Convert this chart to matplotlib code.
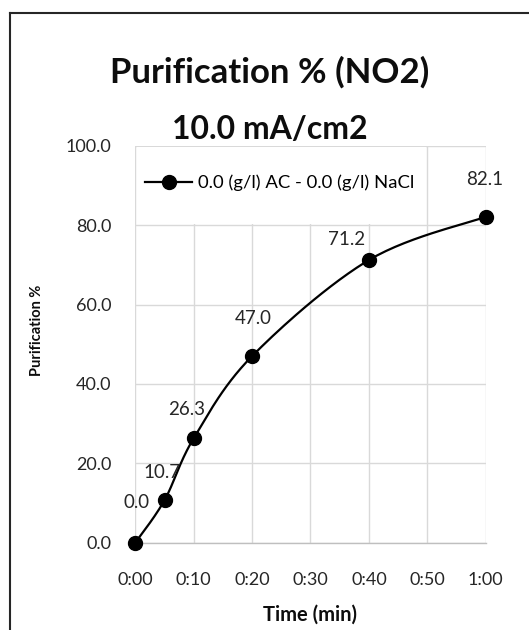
import matplotlib
matplotlib.use("Agg")
import matplotlib.pyplot as plt
from matplotlib.patches import Rectangle
from matplotlib.ticker import FuncFormatter, MultipleLocator
import numpy as np

plt.rcParams['font.family'] = ['Lato', 'DejaVu Sans']

# time in minutes and purification %
time_min = [0, 5, 10, 20, 40, 60]
purif = [0.0, 10.7, 26.3, 47.0, 71.2, 82.1]
series_name = '0.0 (g/l) AC - 0.0 (g/l) NaCl'

# where each value label sits relative to its point (points)
label_offsets = [(1, 29), (-2, 20), (-5, 21), (1, 27), (-16, 15), (-1, 27)]


def smooth_curve(x, y, sx=1.0, sy=1.0, n=30):
    # cubic bezier through the points, tangents like a spreadsheet "smoothed line"
    px = np.asarray(x, float) * sx
    py = np.asarray(y, float) * sy
    xs, ys = [], []
    for i in range(len(px) - 1):
        i0 = max(i - 1, 0)
        i3 = min(i + 2, len(px) - 1)
        p0 = np.array([px[i], py[i]])
        p3 = np.array([px[i + 1], py[i + 1]])
        c1 = p0 + (np.array([px[i + 1], py[i + 1]]) - np.array([px[i0], py[i0]])) / 6
        c2 = p3 - (np.array([px[i3], py[i3]]) - np.array([px[i], py[i]])) / 6
        t = np.linspace(0, 1, n)[:, None]
        b = (1 - t) ** 3 * p0 + 3 * (1 - t) ** 2 * t * c1 + 3 * (1 - t) * t ** 2 * c2 + t ** 3 * p3
        xs.extend(b[:, 0])
        ys.extend(b[:, 1])
    return np.array(xs) / sx, np.array(ys) / sy


fig = plt.figure(figsize=(5.29, 6.30), dpi=100)
ax = fig.add_axes([0.2558, 0.1386, 0.6623, 0.6301])

ax.set_xlim(0, 60)
ax.set_ylim(0, 100)
ax.xaxis.set_major_locator(MultipleLocator(10))
ax.yaxis.set_major_locator(MultipleLocator(20))
ax.xaxis.set_major_formatter(FuncFormatter(lambda v, p: f"{int(v) // 60}:{int(v) % 60:02d}"))
ax.yaxis.set_major_formatter(FuncFormatter(lambda v, p: f"{v:.1f}"))
ax.grid(True, color='#d9d9d9', linewidth=1.0)
ax.set_axisbelow(True)
for s in ['top', 'right', 'left']:
    ax.spines[s].set_visible(False)
ax.spines['bottom'].set_color('#bfbfbf')
ax.spines['bottom'].set_linewidth(1.0)
ax.tick_params(length=0, labelsize=13, colors='#262626')
ax.tick_params(axis='y', pad=17)
ax.tick_params(axis='x', pad=21)

# white legend panel sitting over the upper-left grid cells
ax.add_patch(Rectangle((0.004, 0.803), 0.826, 0.193, transform=ax.transAxes,
                       facecolor='white', edgecolor='none', zorder=1))

sx_, sy_ = 5.84, 3.97
cx, cy = smooth_curve(time_min, purif, sx_, sy_)
ax.plot(cx, cy, color='black', linewidth=1.6, clip_on=False, zorder=3)
ax.plot(time_min, purif, linestyle='none', marker='o', markersize=10,
        color='black', clip_on=False, zorder=4)

for t, v, off in zip(time_min, purif, label_offsets):
    ax.annotate(f"{v:.1f}", (t, v), xytext=off, textcoords='offset points',
                ha='center', va='center', fontsize=13.5, color='#262626', zorder=5)

# legend handle
h, = ax.plot([], [], color='black', linewidth=1.6, marker='o', markersize=10)
leg = ax.legend([h], [series_name], loc='center left', bbox_to_anchor=(0.028, 0.906),
                frameon=False, fontsize=13.3, handlelength=2.55,
                borderpad=0.0, borderaxespad=0.0, handletextpad=0.3)

ax.set_xlabel('Time (min)', fontsize=14.5, fontweight='bold', color='#0d0d0d')
ax.xaxis.set_label_coords(0.50, -0.155)
ax.set_ylabel('Purification %', fontsize=10.5, fontweight='bold', color='#0d0d0d')
ax.yaxis.set_label_coords(-0.262, 0.535)

fig.text(0.51, 0.886, 'Purification % (NO2)', fontsize=25, fontweight='bold',
         ha='center', va='center', color='#0d0d0d')
fig.text(0.51, 0.795, '10.0 mA/cm2', fontsize=23, fontweight='bold',
         ha='center', va='center', color='#0d0d0d')

# outer chart border (left and top edges)
fig.add_artist(plt.Line2D([0.019, 0.019], [0.0, 0.979], color='#262626', linewidth=1.5))
fig.add_artist(plt.Line2D([0.019, 1.0], [0.979, 0.979], color='#262626', linewidth=1.5))

fig.savefig('out.png', dpi=100)
